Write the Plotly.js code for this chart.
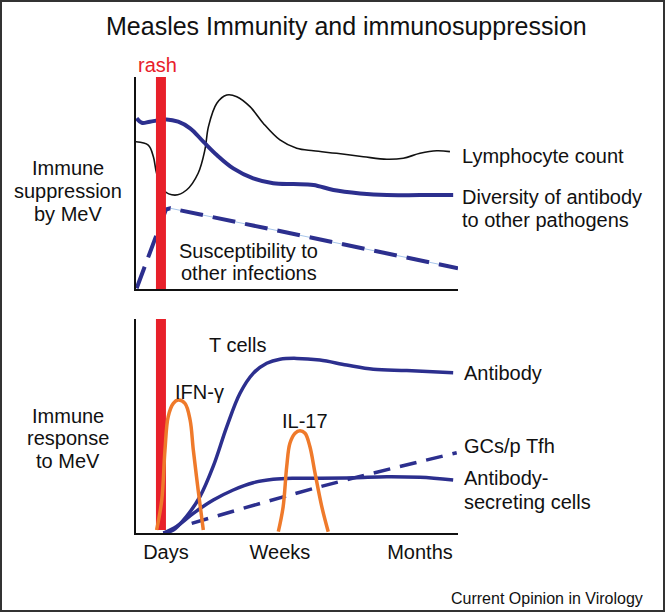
<!DOCTYPE html>
<html>
<head>
<meta charset="utf-8">
<script src="https://cdn.plot.ly/plotly-3.0.1.min.js"></script>
<style>html,body{margin:0;padding:0;background:#fff;}#chart{width:665px;height:612px;}</style>
</head>
<body>
<div id="chart"></div>
<script>
// ---- Data (time axis 0-100, level 0-100) ----
const lymphX = [-0.3,3.8,5.4,6.4,8.5,12.1,15.7,19.3,21.4,22.5,25.1,28.2,31.3,35.4,39.5,44.7,49.9,55.1,62.3,70.6,77.9,83.0,88.2,93.4,97.5];
const lymphY = [69.5,67.9,62.4,54.6,46.7,44.3,46.7,54.6,65.6,76.6,87.6,91.5,90.7,86.0,78.2,70.3,66.4,65.2,64.0,62.4,61.2,61.7,64.0,65.2,64.8];
const diversityX = [0.2,1.8,4.3,9.5,13.1,16.8,20.9,25.1,30.2,36.4,42.6,48.9,55.1,61.3,69.6,77.9,88.2,98.5];
const diversityY = [80.5,78.4,78.9,80.0,78.9,75.8,69.5,63.2,56.9,52.2,49.9,49.5,49.1,46.7,45.1,44.3,44.3,44.3];
const susceptX = [0.2,9.3,10.6,100];
const susceptY = [0.3,37.5,38.1,9.8];
const tcellX = [8.5,11.6,15.7,19.9,24.0,28.2,32.3,36.4,40.6,44.7,49.9,57.1,65.4,73.7,84.1,98.5];
const tcellY = [0,1.4,7.8,17.1,31.2,49.7,65.3,74.6,79.3,81.2,81.6,80.8,78.5,76.5,75.9,74.9];
const ascX = [8.5,12.6,17.8,24.0,30.2,36.4,42.6,48.9,57.1,67.5,77.9,88.2,98.5];
const ascY = [0,3.1,9.2,15.4,20.1,23.5,25.1,25.6,25.6,25.8,26.3,26.0,24.8];
const gcX = [17.3,57.1,99.6];
const gcY = [4.5,21.6,37.5];
const ifnX = [6.4,8.0,9.0,10.0,11.6,13.1,15.2,16.8,17.8,19.3,20.9];
const ifnY = [1.4,15.4,38.8,54.4,60.6,62.1,60.6,52.8,38.8,20.1,1.4];
const il17X = [44.2,45.7,46.8,47.8,49.4,50.9,52.5,54.0,55.6,57.7,59.7];
const il17Y = [0.6,12.3,31.0,41.9,46.6,47.8,46.6,40.4,28.0,12.3,0.6];
const rashStart = 6.2, rashEnd = 9.3;
const timeTickVals = [9.3,44.7,88.2];
const timeTickText = ['Days','Weeks','Months'];

// ---- Style ----
const NAVY = '#2c2f8e', ORANGE = '#ef7a2b', RED = '#e8202a';
const FONT = '"Liberation Sans", Arial, Helvetica, sans-serif';
const W = 665, H = 612;
const px = x => x / W, py = y => 1 - y / H;

const traces = [
  {x: susceptX.slice(1), y: susceptY.slice(1), xaxis:'x', yaxis:'y', mode:'lines', line:{color:'#a8c6ea', width:1}},
  {x: susceptX, y: susceptY, xaxis:'x', yaxis:'y', mode:'lines', line:{color:NAVY, width:4, dash:'23px,10px'}},
  {x: lymphX, y: lymphY, xaxis:'x', yaxis:'y', mode:'lines', line:{color:'#111', width:1.6, shape:'spline', smoothing:1}},
  {x: diversityX, y: diversityY, xaxis:'x', yaxis:'y', mode:'lines', line:{color:NAVY, width:4, shape:'spline', smoothing:1}},
  {x: gcX, y: gcY, xaxis:'x2', yaxis:'y2', mode:'lines', line:{color:NAVY, width:3.5, dash:'17px,10px', shape:'spline'}},
  {x: ascX, y: ascY, xaxis:'x2', yaxis:'y2', mode:'lines', line:{color:NAVY, width:3.5, shape:'spline', smoothing:1}},
  {x: tcellX, y: tcellY, xaxis:'x2', yaxis:'y2', mode:'lines', line:{color:NAVY, width:3.5, shape:'spline', smoothing:1}},
  {x: ifnX, y: ifnY, xaxis:'x2', yaxis:'y2', mode:'lines', line:{color:ORANGE, width:3.5, shape:'spline', smoothing:1}},
  {x: il17X, y: il17Y, xaxis:'x2', yaxis:'y2', mode:'lines', line:{color:ORANGE, width:3.5, shape:'spline', smoothing:1}}
];

const axisX = {range:[0,100], showline:true, linecolor:'#111', linewidth:2, showgrid:false, zeroline:false, ticks:'', fixedrange:true};
const axisY = {range:[0,100], showline:true, linecolor:'#111', linewidth:2, showgrid:false, zeroline:false, ticks:'', showticklabels:false, fixedrange:true};

function txt(text, x, y, opts) {
  return Object.assign({text:text, xref:'paper', yref:'paper', x:px(x), y:py(y), showarrow:false,
    xanchor:'left', yanchor:'middle', font:{family:FONT, size:20, color:'#111'}}, opts || {});
}

const annotations = [
  txt('Measles Immunity and immunosuppression', 346.5, 26, {xanchor:'center', font:{family:FONT, size:25, color:'#111'}}),
  txt('rash', 157, 65, {xanchor:'center', font:{family:FONT, size:20, color:RED}}),
  txt('Immune', 68, 168, {xanchor:'center'}),
  txt('suppression', 68, 191, {xanchor:'center'}),
  txt('by MeV', 68, 214, {xanchor:'center'}),
  txt('Lymphocyte count', 460, 156),
  txt('Diversity of antibody', 460, 197),
  txt('to other pathogens', 460, 220),
  txt('Susceptibility to', 248, 251, {xanchor:'center'}),
  txt('other infections', 249, 273, {xanchor:'center'}),
  txt('Immune', 68, 416, {xanchor:'center'}),
  txt('response', 68, 438, {xanchor:'center'}),
  txt('to MeV', 68, 461, {xanchor:'center'}),
  txt('T cells', 207, 345),
  txt('IFN-γ', 173, 392),
  txt('IL-17', 280, 421),
  txt('Antibody', 462, 373),
  txt('GCs/p Tfh', 462, 446),
  txt('Antibody-', 462, 478),
  txt('secreting cells', 462, 502),
  txt('Current Opinion in Virology', 645, 598, {xanchor:'right', font:{family:FONT, size:16, color:'#111'}})
];

const shapes = [
  {type:'rect', xref:'x', yref:'y', x0:rashStart, x1:rashEnd, y0:0, y1:100, fillcolor:RED, line:{width:0}, layer:'above'},
  {type:'rect', xref:'x2', yref:'y2', x0:rashStart, x1:rashEnd, y0:1.4, y1:100, fillcolor:RED, line:{width:0}, layer:'below'},
  {type:'rect', xref:'paper', yref:'paper', x0:0.0015, x1:0.9985, y0:0.0016, y1:0.9984, line:{color:'#333', width:2}, fillcolor:'rgba(0,0,0,0)'}
];

const layout = {
  width: W, height: H, margin:{l:0, r:0, t:0, b:0}, showlegend:false,
  paper_bgcolor:'#fff', plot_bgcolor:'rgba(0,0,0,0)',
  xaxis: Object.assign({}, axisX, {domain:[px(136), px(458)], anchor:'y', showticklabels:false}),
  yaxis: Object.assign({}, axisY, {domain:[py(289), py(77)], anchor:'x'}),
  xaxis2: Object.assign({}, axisX, {domain:[px(136), px(458)], anchor:'y2', showticklabels:true,
    tickvals: timeTickVals, ticktext: timeTickText, tickfont:{family:FONT, size:20, color:'#111'}}),
  yaxis2: Object.assign({}, axisY, {domain:[py(533), py(319)], anchor:'x2'}),
  annotations: annotations, shapes: shapes
};

Plotly.newPlot('chart', traces, layout, {staticPlot:true, displayModeBar:false});
</script>
</body>
</html>
